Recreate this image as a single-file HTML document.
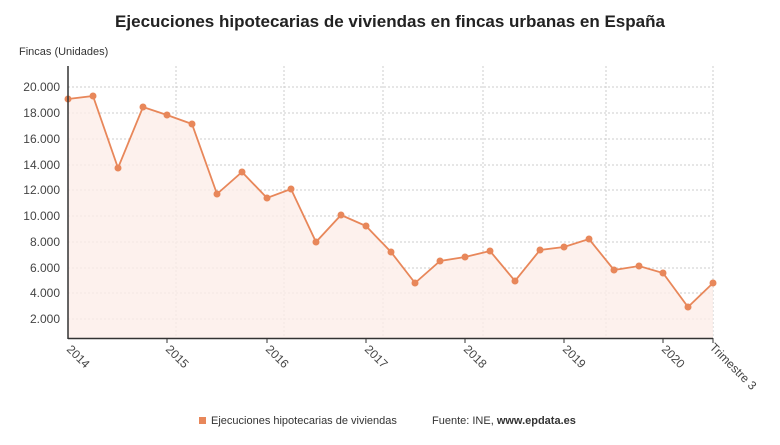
<!DOCTYPE html>
<html><head><meta charset="utf-8"><style>
body{margin:0;background:#fff;width:780px;height:440px;overflow:hidden;font-family:"Liberation Sans",sans-serif}
</style></head><body>
<svg width="780" height="440" xmlns="http://www.w3.org/2000/svg" font-family="Liberation Sans, sans-serif">
<text x="390" y="27" text-anchor="middle" font-size="17" font-weight="bold" fill="#222">Ejecuciones hipotecarias de viviendas en fincas urbanas en España</text>
<text x="19" y="55" font-size="11" fill="#333">Fincas (Unidades)</text>
<g stroke="#ccc" stroke-dasharray="2,2" stroke-width="1">
<line x1="68" x2="713" y1="87" y2="87"/><line x1="68" x2="713" y1="113" y2="113"/><line x1="68" x2="713" y1="139" y2="139"/><line x1="68" x2="713" y1="165" y2="165"/><line x1="68" x2="713" y1="190" y2="190"/><line x1="68" x2="713" y1="216" y2="216"/><line x1="68" x2="713" y1="242" y2="242"/><line x1="68" x2="713" y1="268" y2="268"/><line x1="68" x2="713" y1="293" y2="293"/><line x1="68" x2="713" y1="319" y2="319"/>
<line x1="176" x2="176" y1="66" y2="338"/><line x1="284" x2="284" y1="66" y2="338"/><line x1="383" x2="383" y1="66" y2="338"/><line x1="483" x2="483" y1="66" y2="338"/><line x1="606" x2="606" y1="66" y2="338"/><line x1="713" x2="713" y1="66" y2="338"/>
</g>
<g font-size="12" fill="#444" text-anchor="end">
<text x="60" y="91">20.000</text><text x="60" y="117">18.000</text><text x="60" y="143">16.000</text><text x="60" y="169">14.000</text><text x="60" y="194">12.000</text><text x="60" y="220">10.000</text><text x="60" y="246">8.000</text><text x="60" y="272">6.000</text><text x="60" y="297">4.000</text><text x="60" y="323">2.000</text>
</g>
<polygon fill="#fdeee8" opacity="0.8" points="68,338 68,99 93,96 118,168 143,107 167,115 192,124 217,194 242,172 267,198 291,189 316,242 341,215 366,226 391,252 415,283 440,261 465,257 490,251 515,281 540,250 564,247 589,239 614,270 639,266 663,273 688,307 713,283 713,338"/>
<polyline fill="none" stroke="#e8875a" stroke-width="1.8" points="68,99 93,96 118,168 143,107 167,115 192,124 217,194 242,172 267,198 291,189 316,242 341,215 366,226 391,252 415,283 440,261 465,257 490,251 515,281 540,250 564,247 589,239 614,270 639,266 663,273 688,307 713,283"/>
<g fill="#e8875a">
<circle cx="68" cy="99" r="3.5"/><circle cx="93" cy="96" r="3.5"/><circle cx="118" cy="168" r="3.5"/><circle cx="143" cy="107" r="3.5"/><circle cx="167" cy="115" r="3.5"/><circle cx="192" cy="124" r="3.5"/><circle cx="217" cy="194" r="3.5"/><circle cx="242" cy="172" r="3.5"/><circle cx="267" cy="198" r="3.5"/><circle cx="291" cy="189" r="3.5"/><circle cx="316" cy="242" r="3.5"/><circle cx="341" cy="215" r="3.5"/><circle cx="366" cy="226" r="3.5"/><circle cx="391" cy="252" r="3.5"/><circle cx="415" cy="283" r="3.5"/><circle cx="440" cy="261" r="3.5"/><circle cx="465" cy="257" r="3.5"/><circle cx="490" cy="251" r="3.5"/><circle cx="515" cy="281" r="3.5"/><circle cx="540" cy="250" r="3.5"/><circle cx="564" cy="247" r="3.5"/><circle cx="589" cy="239" r="3.5"/><circle cx="614" cy="270" r="3.5"/><circle cx="639" cy="266" r="3.5"/><circle cx="663" cy="273" r="3.5"/><circle cx="688" cy="307" r="3.5"/><circle cx="713" cy="283" r="3.5"/>
</g>
<line x1="68" x2="68" y1="66" y2="339" stroke="#333" stroke-width="1.5"/>
<line x1="68" x2="713" y1="338.5" y2="338.5" stroke="#333" stroke-width="1.5"/>
<g stroke="#333"><line x1="167" x2="167" y1="338" y2="343"/><line x1="267" x2="267" y1="338" y2="343"/><line x1="366" x2="366" y1="338" y2="343"/><line x1="465" x2="465" y1="338" y2="343"/><line x1="564" x2="564" y1="338" y2="343"/><line x1="663" x2="663" y1="338" y2="343"/><line x1="713" x2="713" y1="338" y2="343"/></g>
<g font-size="12" fill="#444">
<text transform="translate(66,350) rotate(45)">2014</text>
<text transform="translate(165,350) rotate(45)">2015</text>
<text transform="translate(265,350) rotate(45)">2016</text>
<text transform="translate(364,350) rotate(45)">2017</text>
<text transform="translate(463,350) rotate(45)">2018</text>
<text transform="translate(562,350) rotate(45)">2019</text>
<text transform="translate(661,350) rotate(45)">2020</text>
<text transform="translate(709,348) rotate(45)">Trimestre 3</text>
</g>
<rect x="199" y="417" width="7" height="7" fill="#e8875a"/>
<text x="211" y="424" font-size="11" fill="#333">Ejecuciones hipotecarias de viviendas</text>
<text x="432" y="424" font-size="11" fill="#333">Fuente: INE, <tspan font-weight="bold">www.epdata.es</tspan></text>
</svg>
</body></html>
